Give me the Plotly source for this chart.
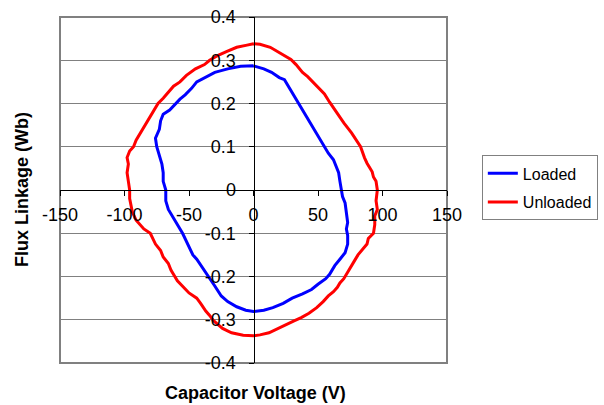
import plotly.graph_objects as go

# Unloaded (red) loop: capacitor voltage (V) and flux linkage (Wb)
unloaded_v = [0, 5, 13, 19, 24, 29, 33, 38, 42, 46, 49, 55, 59, 62, 66, 70, 76, 79, 83, 86, 88, 92, 93, 95, 96,
              95, 96, 94, 94, 93, 89, 88, 85, 81, 78, 75, 72, 70, 67, 65, 62, 58, 54, 49, 43, 37, 31, 24, 18, 12, 5, 0,
              -8, -17, -24, -31, -34, -37, -41, -44, -50, -55, -59, -61, -64, -66, -70, -72, -76, -80, -85, -91, -94, -96,
              -96, -97, -98, -97, -98, -96, -93, -91, -88, -85, -82, -78, -74, -70, -67, -62, -57, -52, -45, -38, -34,
              -27, -21, -13, -5, 0]
unloaded_phi = [0.338, 0.337, 0.33, 0.32, 0.31, 0.302, 0.29, 0.272, 0.262, 0.25, 0.24, 0.222, 0.203, 0.19, 0.172,
                0.155, 0.132, 0.118, 0.1, 0.075, 0.062, 0.042, 0.03, 0.02, 0.0,
                -0.025, -0.045, -0.06, -0.08, -0.1, -0.112, -0.125, -0.135, -0.15, -0.165, -0.18, -0.195, -0.205,
                -0.215, -0.225, -0.235, -0.245, -0.258, -0.272, -0.285, -0.295, -0.303, -0.313, -0.322, -0.33, -0.335,
                -0.337,
                -0.336, -0.33, -0.32, -0.302, -0.29, -0.28, -0.262, -0.25, -0.238, -0.222, -0.21, -0.2, -0.185, -0.17,
                -0.155, -0.14, -0.125, -0.1, -0.09, -0.07, -0.05, -0.02,
                0.0, 0.02, 0.04, 0.06, 0.075, 0.09, 0.1, 0.115, 0.13, 0.145, 0.16, 0.18, 0.2, 0.212, 0.222, 0.24, 0.25,
                0.265, 0.28, 0.29, 0.3, 0.312, 0.32, 0.33, 0.335, 0.338]

# Loaded (blue) loop
loaded_v = [0, 8, 14, 20, 24, 26, 28, 31, 34, 37, 40, 45, 48, 51, 55, 58, 62, 64, 66, 67, 68,
            69, 71, 72, 73, 72, 73, 73, 71, 67, 63, 59, 56, 50, 45, 38, 30, 23, 15, 8, 0,
            -6, -13, -20, -25, -30, -35, -41, -44, -47, -50, -53, -55, -58, -62, -66, -68,
            -68, -70, -70, -71, -73, -75, -76, -73, -72, -70, -65, -62, -57, -53, -48, -44, -37, -30, -20, -10, 0]
loaded_phi = [0.287, 0.28, 0.272, 0.26, 0.255, 0.245, 0.232, 0.22, 0.205, 0.19, 0.175, 0.15, 0.135, 0.12, 0.1,
              0.085, 0.07, 0.055, 0.04, 0.02, 0.0,
              -0.015, -0.03, -0.055, -0.075, -0.09, -0.105, -0.125, -0.145, -0.16, -0.175, -0.195, -0.205, -0.218,
              -0.23, -0.24, -0.25, -0.262, -0.272, -0.278, -0.281,
              -0.278, -0.27, -0.258, -0.245, -0.222, -0.2, -0.175, -0.16, -0.15, -0.13, -0.11, -0.1, -0.085, -0.065,
              -0.045, -0.025,
              0.0, 0.02, 0.04, 0.06, 0.08, 0.1, 0.12, 0.14, 0.16, 0.175, 0.185, 0.195, 0.21, 0.22, 0.235, 0.25, 0.262,
              0.272, 0.28, 0.286, 0.287]

x_ticks = [-150, -100, -50, 0, 50, 100, 150]
y_ticks = [-0.4, -0.3, -0.2, -0.1, 0, 0.1, 0.2, 0.3, 0.4]

FONT = "Liberation Sans, Arial, sans-serif"

fig = go.Figure()
fig.add_trace(go.Scatter(x=loaded_v, y=loaded_phi, mode="lines", name="Loaded",
                         line=dict(color="#0000FF", width=3), legendgroup="a"))
fig.add_trace(go.Scatter(x=unloaded_v, y=unloaded_phi, mode="lines", name="Unloaded",
                         line=dict(color="#FF0000", width=3), legendgroup="b"))

fig.update_layout(
    width=604, height=405,
    margin=dict(l=60, r=157, t=17, b=42, autoexpand=False),
    paper_bgcolor="white", plot_bgcolor="white",
    font=dict(family=FONT, size=18, color="black"),
    xaxis=dict(range=[-150, 150], tickvals=x_ticks, ticktext=[str(v) for v in x_ticks],
               anchor="free", position=0.5, showline=True, linecolor="black", linewidth=1,
               ticks="outside", ticklen=5, tickcolor="black", showgrid=False, zeroline=False,
               tickfont=dict(size=18), ticklabelstandoff=3, automargin=False),
    yaxis=dict(range=[-0.4, 0.4], tickvals=y_ticks, ticktext=[f"{v:g}" for v in y_ticks],
               anchor="free", position=0.5, showline=True, linecolor="black", linewidth=1,
               ticks="outside", ticklen=5, tickcolor="black", showgrid=True, gridcolor="#808080",
               gridwidth=1, zeroline=False, tickfont=dict(size=18), ticklabelstandoff=9,
               automargin=False),
    legend=dict(x=1.09, y=0.6, xanchor="left", yanchor="top", bgcolor="white",
                bordercolor="#808080", borderwidth=1, font=dict(size=16), tracegroupgap=5),
    showlegend=True,
    shapes=[dict(type="rect", xref="paper", yref="paper", x0=0, x1=1, y0=0, y1=1,
                 line=dict(color="#808080", width=2), layer="below")],
    annotations=[
        dict(text="<b>Capacitor Voltage (V)</b>", xref="paper", yref="paper", x=0.506, y=0,
             yshift=-30, xanchor="center", yanchor="middle", showarrow=False, font=dict(size=18)),
        dict(text="<b>Flux Linkage (Wb)</b>", xref="paper", yref="paper", x=-0.098, y=0.5,
             textangle=-90, xanchor="center", yanchor="middle", showarrow=False, font=dict(size=18)),
    ],
)

fig.write_html("out.html", config={"displayModeBar": False},
               post_script="document.body.style.margin='0';document.body.style.padding='0';")
